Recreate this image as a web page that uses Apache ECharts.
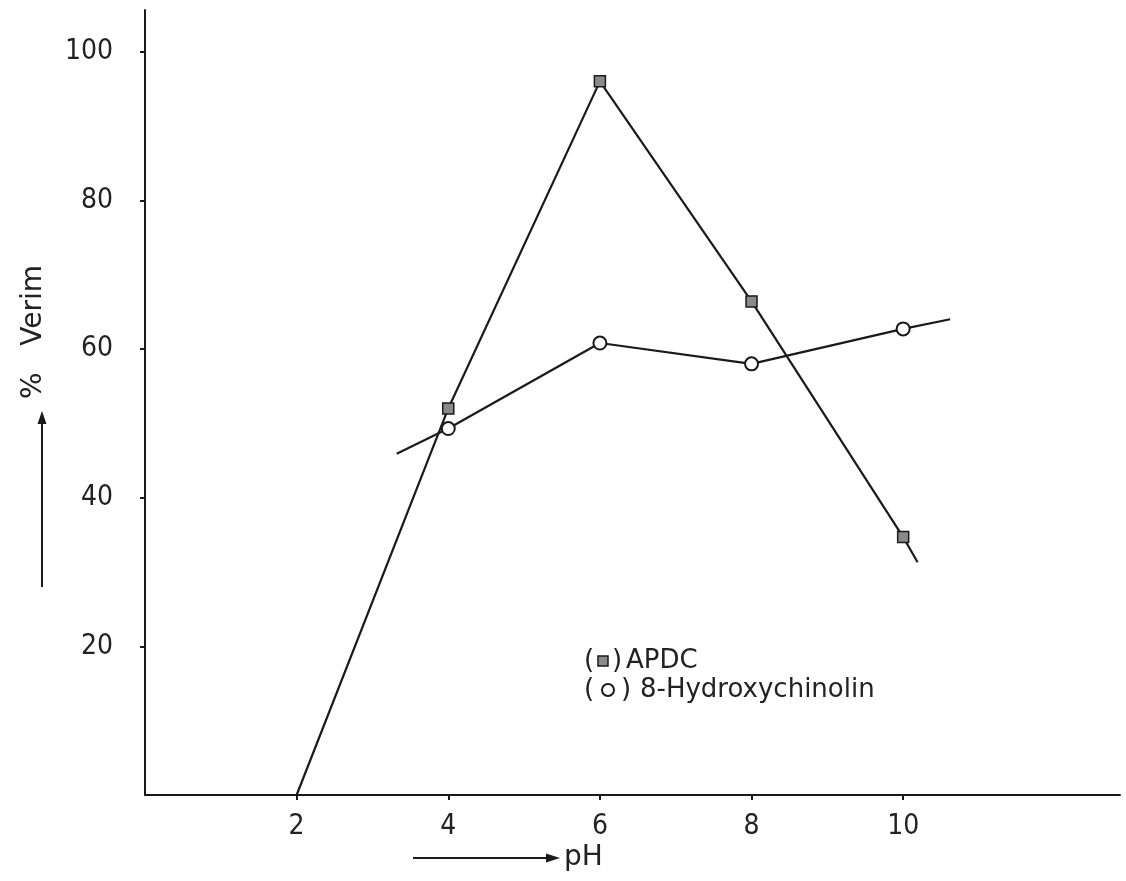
<!DOCTYPE html>
<html>
<head>
<meta charset="utf-8">
<script src="https://cdn.jsdelivr.net/npm/echarts@6/dist/echarts.min.js"></script>
<style>
  html, body { margin: 0; padding: 0; background: #ffffff; }
  #chart { width: 1126px; height: 881px; }
</style>
</head>
<body>
<div id="chart"></div>
<script>
// Yield (%) versus pH for two chelating agents
const xTicks = [2, 4, 6, 8, 10];
const yTicks = [20, 40, 60, 80, 100];

// APDC: measured points, last entry is the end of the drawn line past pH 10
const apdcPH    = [2, 4, 6, 8, 10, 10.19];
const apdcYield = [0, 52, 96, 66.4, 34.7, 31.3];
const apdcMarked = [false, true, true, true, true, false];

// 8-Hydroxychinolin: line drawn slightly beyond the first and last measurements
const oxinPH    = [3.32, 4, 6, 8, 10, 10.62];
const oxinYield = [45.9, 49.3, 60.8, 58, 62.7, 64];
const oxinMarked = [false, true, true, true, true, false];

const INK = '#1a1a1a';
const NUM_FONT = '"Liberation Sans Narrow", "DejaVu Sans Condensed", "Liberation Sans", sans-serif';
const TXT_FONT = '"DejaVu Sans", "Liberation Sans", sans-serif';

function buildPoints(xs, ys, marked) {
  return xs.map((x, i) => marked[i] ? [x, ys[i]] : { value: [x, ys[i]], symbol: 'none' });
}

const chart = echarts.init(document.getElementById('chart'), null, { renderer: 'canvas' });

chart.setOption({
  animation: false,
  backgroundColor: '#ffffff',
  grid: { left: 145, right: 6, top: 10, bottom: 86 },
  xAxis: {
    type: 'value',
    min: 0,
    max: 12.86,
    splitLine: { show: false },
    axisLine: { lineStyle: { color: INK, width: 2 } },
    axisTick: { customValues: xTicks, length: 5, lineStyle: { color: INK, width: 2 } },
    axisLabel: {
      customValues: xTicks,
      margin: 18,
      color: '#222',
      fontSize: 28,
      fontFamily: NUM_FONT
    }
  },
  yAxis: {
    type: 'value',
    min: 0,
    max: 105.6,
    splitLine: { show: false },
    axisLine: { show: true, lineStyle: { color: INK, width: 2 } },
    axisTick: { show: true, customValues: yTicks, length: 5, lineStyle: { color: INK, width: 2 } },
    axisLabel: {
      customValues: yTicks,
      margin: 32,
      color: '#222',
      fontSize: 28,
      fontFamily: NUM_FONT
    }
  },
  series: [
    {
      name: 'APDC',
      type: 'line',
      data: buildPoints(apdcPH, apdcYield, apdcMarked),
      symbol: 'rect',
      symbolSize: 11,
      itemStyle: { color: '#8a8a8a', borderColor: INK, borderWidth: 1.5 },
      lineStyle: { color: INK, width: 2.2 },
      z: 3
    },
    {
      name: '8-Hydroxychinolin',
      type: 'line',
      data: buildPoints(oxinPH, oxinYield, oxinMarked),
      symbol: 'emptyCircle',
      symbolSize: 13,
      itemStyle: { color: INK, borderColor: INK, borderWidth: 2 },
      lineStyle: { color: INK, width: 2.2 },
      z: 2
    }
  ],
  graphic: [
    // y-axis title with upward arrow
    {
      type: 'text',
      x: 34, y: 332,
      rotation: Math.PI / 2,
      style: {
        text: '%   Verim',
        font: '28px ' + TXT_FONT,
        fill: '#222',
        textAlign: 'center',
        textVerticalAlign: 'middle'
      }
    },
    {
      type: 'line',
      shape: { x1: 42, y1: 587, x2: 42, y2: 420 },
      style: { stroke: INK, lineWidth: 2 }
    },
    {
      type: 'polygon',
      shape: { points: [[42, 411], [37.5, 424], [46.5, 424]] },
      style: { fill: INK }
    },
    // x-axis title with rightward arrow
    {
      type: 'line',
      shape: { x1: 413, y1: 858, x2: 550, y2: 858 },
      style: { stroke: INK, lineWidth: 2 }
    },
    {
      type: 'polygon',
      shape: { points: [[560, 858], [546, 853.5], [546, 862.5]] },
      style: { fill: INK }
    },
    {
      type: 'text',
      x: 564, y: 858,
      style: {
        text: 'pH',
        font: '28px ' + TXT_FONT,
        fill: '#222',
        textAlign: 'left',
        textVerticalAlign: 'middle'
      }
    },
    // key
    { type: 'text', x: 584, y: 661, style: { text: '(', font: '26px ' + TXT_FONT, fill: '#222', textVerticalAlign: 'middle' } },
    { type: 'rect', shape: { x: 598, y: 656, width: 10, height: 10 }, style: { fill: '#8a8a8a', stroke: INK, lineWidth: 1.5 } },
    { type: 'text', x: 612, y: 661, style: { text: ')', font: '26px ' + TXT_FONT, fill: '#222', textVerticalAlign: 'middle' } },
    { type: 'text', x: 626, y: 661, style: { text: 'APDC', font: '26px ' + TXT_FONT, fill: '#222', textVerticalAlign: 'middle' } },
    { type: 'text', x: 584, y: 690, style: { text: '(', font: '26px ' + TXT_FONT, fill: '#222', textVerticalAlign: 'middle' } },
    { type: 'circle', shape: { cx: 608, cy: 690, r: 6 }, style: { fill: '#ffffff', stroke: INK, lineWidth: 2 } },
    { type: 'text', x: 621, y: 690, style: { text: ')', font: '26px ' + TXT_FONT, fill: '#222', textVerticalAlign: 'middle' } },
    { type: 'text', x: 640, y: 690, style: { text: '8-Hydroxychinolin', font: '26px ' + TXT_FONT, fill: '#222', textVerticalAlign: 'middle' } }
  ]
});
</script>
</body>
</html>
